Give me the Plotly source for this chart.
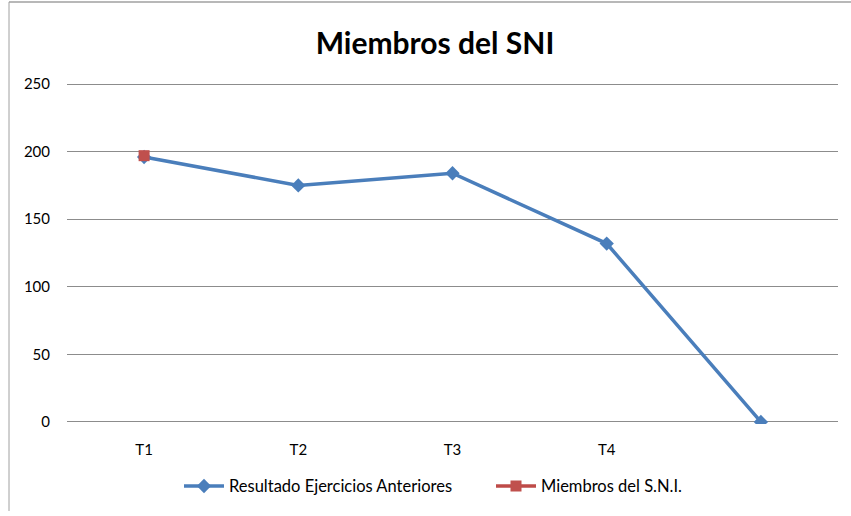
import plotly.graph_objects as go

categories = ["T1", "T2", "T3", "T4", " "]
resultado = [196, 175, 184, 132, 0]
miembros = [197, None, None, None, None]
y_ticks = [0, 50, 100, 150, 200, 250]

FONT = "Lato, Liberation Sans, sans-serif"
W, H = 851, 516
L, R, T, B = 67, 13, 82, 88
pw, ph = W - L - R, H - T - B

fig = go.Figure()
fig.add_trace(go.Scatter(
    x=categories, y=resultado, mode="lines+markers",
    name="Resultado Ejercicios Anteriores",
    line=dict(color="#4A7EBB", width=3.5),
    marker=dict(symbol="diamond", size=11, color="#4A7EBB"),
    legend="legend",
))
fig.add_trace(go.Scatter(
    x=categories, y=miembros, mode="lines+markers",
    name="Miembros del S.N.I.",
    line=dict(color="#BE4B48", width=3.5),
    marker=dict(symbol="square", size=11, color="#C0504D"),
    legend="legend2",
))

def px_x(p):
    return (p - L) / pw

def px_y(p):
    return (H - B - p) / ph

fig.add_shape(type="line", xref="paper", yref="paper",
              x0=px_x(9), x1=px_x(9), y0=px_y(516), y1=px_y(1),
              line=dict(color="#A0A0A0", width=1))
fig.add_shape(type="line", xref="paper", yref="paper",
              x0=px_x(9), x1=px_x(851), y0=px_y(1), y1=px_y(1),
              line=dict(color="#A0A0A0", width=1.5))

legend_common = dict(orientation="h", yanchor="middle", y=px_y(491),
                     font=dict(size=16.5), itemwidth=40,
                     bgcolor="rgba(0,0,0,0)")

fig.update_layout(
    width=W, height=H,
    margin=dict(l=L, r=R, t=T, b=B),
    paper_bgcolor="white", plot_bgcolor="white",
    font=dict(family=FONT, size=15, color="#000000"),
    title=dict(text="<b>Miembros del SNI</b>", x=(435) / W, xanchor="center",
               y=1 - 43 / H, yanchor="middle",
               font=dict(family=FONT, size=30, color="#000000")),
    xaxis=dict(type="category", categoryorder="array", categoryarray=categories,
               range=[-0.5, len(categories) - 0.5], showgrid=False,
               showline=False, zeroline=False, ticks="", ticklabelstandoff=15,
               tickfont=dict(size=15)),
    yaxis=dict(range=[-1.5, 251.5], tickvals=y_ticks, showgrid=True,
               gridcolor="#8C8C8C", gridwidth=1, zeroline=False,
               showline=False, ticks="", ticklabelstandoff=16,
               tickfont=dict(size=15)),
    legend=dict(x=px_x(179), xanchor="left", **legend_common),
    legend2=dict(x=px_x(491), xanchor="left", **legend_common),
    showlegend=True,
)

fig.write_html("out.html", config={"displayModeBar": False},
               post_script="document.body.style.margin='0px';")
